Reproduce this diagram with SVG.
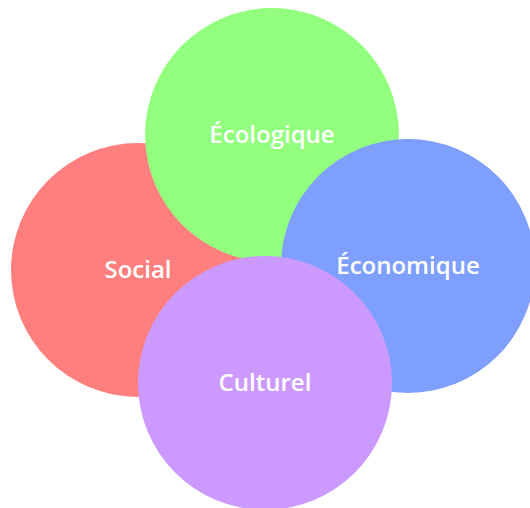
<svg xmlns="http://www.w3.org/2000/svg" width="530" height="508" viewBox="0 0 530 508">
<style>
.lbl{font-family:"Open Sans","Noto Sans","DejaVu Sans",sans-serif;font-weight:600;font-size:24px;fill:#ffffff;text-anchor:middle}
</style>
<rect width="530" height="508" fill="#ffffff"/>
<g id="social"><circle cx="138" cy="270" r="127" fill="#FF7F7F"/><text class="lbl" x="138" y="278">Social</text></g>
<g id="ecologique"><circle cx="272" cy="135" r="127" fill="#92FF7F"/><text class="lbl" x="272" y="143">Écologique</text></g>
<g id="economique"><circle cx="408" cy="266" r="127" fill="#7F9FFF"/><text class="lbl" x="408" y="274">Économique</text></g>
<g id="culturel"><circle cx="265" cy="383" r="127" fill="#CC99FF"/><text class="lbl" x="265" y="391">Culturel</text></g>
<g id="connectors"></g>
</svg>
